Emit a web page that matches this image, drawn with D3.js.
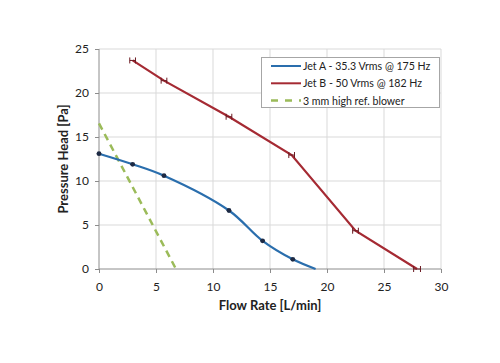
<!DOCTYPE html>
<html><head><meta charset="utf-8">
<script src="https://cdn.jsdelivr.net/npm/d3@7"></script>
<style>body{margin:0;background:#fff;} svg{display:block;font-family:Lato,"Open Sans",sans-serif;}</style>
</head><body>
<svg id="c" width="500" height="363"></svg>
<script>
const xTicks = [0,5,10,15,20,25,30];
const yTicks = [0,5,10,15,20,25];
const jetAFlow = [0, 2.95, 5.7, 11.4, 14.35, 17.0, 19.0];
const jetAHead = [13.1, 11.9, 10.6, 6.65, 3.2, 1.1, 0];
const jetAMarked = [true, true, true, true, true, true, false];
const jetBFlow = [2.95, 5.7, 11.4, 16.9, 22.5, 27.9];
const jetBHead = [23.7, 21.4, 17.3, 12.95, 4.35, 0];
const jetBErr = [0.25, 0.25, 0.25, 0.25, 0.25, 0.3];
const blowerFlow = [0, 6.75];
const blowerHead = [16.55, 0];
const legendLabels = ["Jet A - 35.3 Vrms @ 175 Hz", "Jet B - 50 Vrms @ 182 Hz", "3 mm high ref. blower"];
const colA = "#2a6ead", colB = "#a52a33", colG = "#9bbb59";

const svg = d3.select("#c");
const x = d3.scaleLinear().domain([0,30]).range([99,441]);
const y = d3.scaleLinear().domain([0,25]).range([269,49]);

// grid
svg.append("g").selectAll("line").data(yTicks.filter(d=>d>0)).join("line")
  .attr("x1",x(0)).attr("x2",x(30)).attr("y1",d=>y(d)).attr("y2",d=>y(d))
  .attr("stroke","#d9d9d9").attr("stroke-width",1);
svg.append("g").selectAll("line").data(xTicks.filter(d=>d>0)).join("line")
  .attr("y1",y(0)).attr("y2",y(25)).attr("x1",d=>x(d)).attr("x2",d=>x(d))
  .attr("stroke","#d9d9d9").attr("stroke-width",1);

// axes
const xa = svg.append("g").attr("transform",`translate(0,${y(0)})`)
  .call(d3.axisBottom(x).tickValues(xTicks).tickSize(4).tickPadding(9));
const ya = svg.append("g").attr("transform",`translate(${x(0)},0)`)
  .call(d3.axisLeft(y).tickValues(yTicks).tickSize(4).tickPadding(6));
[xa,ya].forEach(a=>{
  a.selectAll("path,line").attr("stroke","#8c8c8c");
  a.selectAll("text").attr("font-size",12).attr("fill","#222").attr("font-family","Lato,sans-serif");
});
xa.select(".domain").attr("d",`M${x(0)},0H${x(30)}`);
ya.select(".domain").attr("d",`M0,${y(0)}V${y(25)}`);

// blower
svg.append("path").datum(blowerFlow.map((f,i)=>[f,blowerHead[i]]))
  .attr("d",d3.line().x(d=>x(d[0])).y(d=>y(d[1])))
  .attr("fill","none").attr("stroke",colG).attr("stroke-width",2.5).attr("stroke-dasharray","7,5");

// jet A
const dA = jetAFlow.map((f,i)=>[f,jetAHead[i]]);
svg.append("path").datum(dA)
  .attr("d",d3.line().curve(d3.curveCatmullRom.alpha(0.5)).x(d=>x(d[0])).y(d=>y(d[1])))
  .attr("fill","none").attr("stroke",colA).attr("stroke-width",2.2);
const mA = svg.append("g").selectAll("g").data(dA.filter((d,i)=>jetAMarked[i])).join("g");
mA.append("line").attr("x1",d=>x(d[0]-0.2)).attr("x2",d=>x(d[0]+0.2)).attr("y1",d=>y(d[1])).attr("y2",d=>y(d[1])).attr("stroke","#1d2a44").attr("stroke-width",1);
mA.append("circle").attr("cx",d=>x(d[0])).attr("cy",d=>y(d[1])).attr("r",2.4).attr("fill","#1d2a44");

// jet B
const dB = jetBFlow.map((f,i)=>[f,jetBHead[i],jetBErr[i]]);
svg.append("path").datum(dB)
  .attr("d",d3.line().x(d=>x(d[0])).y(d=>y(d[1])))
  .attr("fill","none").attr("stroke",colB).attr("stroke-width",2.2);
const mB = svg.append("g").selectAll("g").data(dB).join("g").attr("stroke","#6b1a22").attr("stroke-width",1);
mB.append("line").attr("x1",d=>x(d[0]-d[2])).attr("x2",d=>x(d[0]+d[2])).attr("y1",d=>y(d[1])).attr("y2",d=>y(d[1]));
mB.append("line").attr("x1",d=>x(d[0]-d[2])).attr("x2",d=>x(d[0]-d[2])).attr("y1",d=>y(d[1])-3).attr("y2",d=>y(d[1])+3);
mB.append("line").attr("x1",d=>x(d[0]+d[2])).attr("x2",d=>x(d[0]+d[2])).attr("y1",d=>y(d[1])-3).attr("y2",d=>y(d[1])+3);

// axis titles
svg.append("text").attr("x",270).attr("y",310).attr("text-anchor","middle")
  .attr("font-size",13).attr("font-weight","bold").attr("fill","#222").text("Flow Rate [L/min]");
svg.append("text").attr("transform","translate(68,159) rotate(-90)").attr("text-anchor","middle")
  .attr("font-size",13).attr("font-weight","bold").attr("fill","#222").text("Pressure Head [Pa]");

// legend
const lg = svg.append("g");
lg.append("rect").attr("x",261.5).attr("y",57.5).attr("width",178).attr("height",50)
  .attr("fill","#fff").attr("stroke","#a6a6a6").attr("stroke-width",1);
const cols = [colA,colB,colG];
legendLabels.forEach((t,i)=>{
  const yy = 66 + i*17.3;
  lg.append("line").attr("x1",271).attr("x2",301).attr("y1",yy).attr("y2",yy)
    .attr("stroke",cols[i]).attr("stroke-width",i==2?2.5:2).attr("stroke-dasharray",i==2?"7,7":null);
  lg.append("text").attr("x",303).attr("y",yy+4).attr("font-size",10.6).attr("fill","#222").text(t);
});
</script>
</body></html>
